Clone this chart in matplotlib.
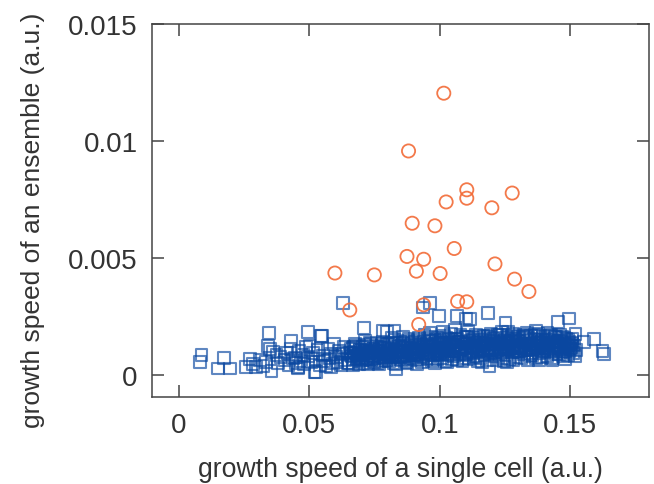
import numpy as np
import matplotlib
matplotlib.use("Agg")
import matplotlib.pyplot as plt

# single-cell growth speed vs ensemble growth speed (a.u.)
# orange circles: ensembles that grow faster
circ_x = [0.1015, 0.0880, 0.1103, 0.1103, 0.1277, 0.1024, 0.1199, 0.0894,
          0.0981, 0.1055, 0.0874, 0.0938, 0.1211, 0.0598, 0.0749, 0.0910,
          0.1001, 0.1286, 0.1341, 0.1068, 0.1103, 0.0938, 0.0655, 0.0919]
circ_y = [12.04, 9.57, 7.91, 7.55, 7.77, 7.39, 7.14, 6.48,
          6.37, 5.40, 5.06, 4.94, 4.74, 4.35, 4.27, 4.43,
          4.33, 4.09, 3.56, 3.14, 3.12, 2.99, 2.77, 2.15]  # x 1e-3

# blue squares: all other ensembles
sq_x = [
    # sparse left part
    0.0080, 0.0087, 0.0150, 0.0172, 0.0195, 0.0259, 0.0272, 0.0297, 0.0335, 0.0342,
    0.0346, 0.0348, 0.0355, 0.0361, 0.0374, 0.0323, 0.0380, 0.0285, 0.0310, 0.0390,
    0.0405, 0.0412, 0.0420, 0.0428, 0.0431, 0.0437, 0.0444, 0.0450, 0.0457, 0.0462,
    0.0468, 0.0475, 0.0481, 0.0488, 0.0495, 0.0501, 0.0507, 0.0513, 0.0520, 0.0527,
    0.0533, 0.0540, 0.0546, 0.0552, 0.0558, 0.0565, 0.0571, 0.0577, 0.0583, 0.0590,
    0.0596, 0.0602, 0.0608, 0.0614, 0.0620, 0.0626, 0.0632, 0.0638, 0.0644, 0.0649,
    # scattered above / below the band
    0.0496, 0.0550, 0.0457, 0.0527, 0.0584, 0.0629, 0.0709, 0.0797, 0.0833, 0.0935,
    0.0963, 0.1065, 0.1116, 0.1183, 0.1251, 0.1190, 0.1256, 0.1451, 0.1496, 0.1519,
    0.1591, 0.1623, 0.1630, 0.1553, 0.1368, 0.0998, 0.1101, 0.0782, 0.0826,
    # band
    0.0652, 0.0658, 0.0663, 0.0667, 0.0671, 0.0676, 0.0681, 0.0686, 0.0690, 0.0694,
    0.0698, 0.0655, 0.0672, 0.0688,
    0.0703, 0.0707, 0.0711, 0.0716, 0.0720, 0.0724, 0.0729, 0.0733, 0.0737, 0.0742,
    0.0746, 0.0749, 0.0713, 0.0731,
    0.0751, 0.0755, 0.0759, 0.0763, 0.0768, 0.0772, 0.0776, 0.0781, 0.0785, 0.0789,
    0.0793, 0.0797, 0.0766, 0.0784,
    0.0801, 0.0805, 0.0809, 0.0813, 0.0818, 0.0822, 0.0826, 0.0830, 0.0835, 0.0839,
    0.0843, 0.0847, 0.0816, 0.0833, 0.0846,
    0.0851, 0.0855, 0.0859, 0.0863, 0.0867, 0.0872, 0.0876, 0.0880, 0.0884, 0.0888,
    0.0892, 0.0896, 0.0858, 0.0874, 0.0893,
    0.0901, 0.0905, 0.0909, 0.0913, 0.0917, 0.0921, 0.0925, 0.0929, 0.0933, 0.0937,
    0.0941, 0.0945, 0.0949, 0.0912, 0.0931, 0.0946,
    0.0951, 0.0955, 0.0959, 0.0963, 0.0967, 0.0971, 0.0975, 0.0979, 0.0983, 0.0987,
    0.0991, 0.0995, 0.0999, 0.0962, 0.0980, 0.0994,
    0.1001, 0.1005, 0.1009, 0.1013, 0.1017, 0.1021, 0.1025, 0.1029, 0.1033, 0.1037,
    0.1041, 0.1045, 0.1049, 0.1011, 0.1027, 0.1043,
    0.1051, 0.1055, 0.1059, 0.1063, 0.1067, 0.1071, 0.1075, 0.1079, 0.1083, 0.1087,
    0.1091, 0.1095, 0.1099, 0.1058, 0.1077, 0.1093,
    0.1101, 0.1105, 0.1109, 0.1113, 0.1117, 0.1121, 0.1125, 0.1129, 0.1133, 0.1137,
    0.1141, 0.1145, 0.1149, 0.1108, 0.1127, 0.1143,
    0.1151, 0.1155, 0.1159, 0.1163, 0.1167, 0.1171, 0.1175, 0.1179, 0.1183, 0.1187,
    0.1191, 0.1195, 0.1199, 0.1160, 0.1178, 0.1194,
    0.1201, 0.1205, 0.1209, 0.1213, 0.1217, 0.1221, 0.1225, 0.1229, 0.1233, 0.1237,
    0.1241, 0.1245, 0.1249, 0.1212, 0.1231, 0.1246,
    0.1251, 0.1255, 0.1259, 0.1263, 0.1267, 0.1271, 0.1275, 0.1279, 0.1283, 0.1287,
    0.1291, 0.1295, 0.1299, 0.1262, 0.1281, 0.1296,
    0.1301, 0.1305, 0.1309, 0.1313, 0.1317, 0.1321, 0.1325, 0.1329, 0.1333, 0.1337,
    0.1341, 0.1345, 0.1349, 0.1312, 0.1331, 0.1346,
    0.1351, 0.1355, 0.1359, 0.1363, 0.1367, 0.1371, 0.1375, 0.1379, 0.1383, 0.1387,
    0.1391, 0.1395, 0.1399, 0.1362, 0.1380, 0.1394,
    0.1401, 0.1405, 0.1409, 0.1413, 0.1417, 0.1421, 0.1425, 0.1429, 0.1433, 0.1437,
    0.1441, 0.1445, 0.1449, 0.1412, 0.1431, 0.1446,
    0.1451, 0.1455, 0.1459, 0.1463, 0.1467, 0.1471, 0.1475, 0.1479, 0.1483, 0.1487,
    0.1491, 0.1495, 0.1499, 0.1460, 0.1478, 0.1493,
    0.1502, 0.1506, 0.1511, 0.1515, 0.1520, 0.1508, 0.1517,
]
sq_y = [  # x 1e-3
    0.56, 0.84, 0.27, 0.73, 0.27, 0.34, 0.67, 0.32, 0.53, 1.24,
    1.77, 1.10, 0.17, 0.96, 0.84, 0.38, 0.50, 0.45, 0.62, 0.75,
    0.62, 0.95, 0.40, 1.10, 1.45, 0.70, 0.74, 0.52, 0.32, 1.02,
    0.60, 0.85, 0.45, 1.18, 0.78, 1.24, 0.55, 0.92, 0.10, 0.67,
    1.05, 0.40, 1.67, 0.82, 0.58, 0.38, 1.12, 0.70, 0.90, 0.48,
    1.30, 0.75, 0.55, 1.00, 0.42, 0.88, 1.20, 0.62, 0.95, 0.50,
    1.84, 1.67, 0.27, 0.13, 0.32, 3.06, 2.00, 1.84, 0.24, 2.88,
    3.06, 2.52, 2.38, 2.64, 2.20, 0.38, 0.53, 2.24, 2.41, 1.74,
    1.53, 1.03, 0.88, 1.41, 1.88, 2.50, 2.41, 1.88, 1.88,
    0.52, 1.12, 0.78, 0.41, 0.95, 1.31, 0.66, 0.88, 0.47, 1.05,
    0.72, 0.93, 1.21, 0.60,
    0.84, 0.51, 1.18, 0.69, 1.02, 0.45, 0.91, 1.36, 0.63, 0.79,
    1.10, 0.55, 1.44, 0.97,
    0.71, 1.25, 0.49, 0.98, 0.83, 1.15, 0.58, 1.40, 0.76, 1.04,
    0.62, 0.89, 0.44, 1.21,
    0.93, 0.57, 1.30, 0.78, 1.12, 0.50, 1.48, 0.86, 1.01, 0.66,
    1.24, 0.74, 1.58, 0.45, 1.07,
    1.02, 0.63, 1.35, 0.81, 1.18, 0.55, 0.97, 1.52, 0.72, 1.26,
    0.88, 1.10, 1.64, 0.49, 0.69,
    0.85, 1.40, 0.62, 1.15, 0.96, 1.58, 0.74, 1.28, 0.53, 1.07,
    1.71, 0.90, 1.33, 0.47, 1.20, 0.68,
    1.18, 0.70, 1.45, 0.92, 1.62, 0.58, 1.25, 0.83, 1.50, 1.03,
    0.66, 1.37, 0.88, 1.80, 0.52, 1.12,
    0.95, 1.48, 0.72, 1.30, 1.66, 0.60, 1.14, 0.85, 1.55, 1.02,
    1.38, 0.67, 1.22, 1.85, 0.54, 1.75,
    1.26, 0.78, 1.52, 1.03, 0.62, 1.41, 0.90, 1.70, 1.15, 0.57,
    1.33, 0.83, 1.60, 1.90, 1.08, 0.70,
    0.88, 1.35, 1.62, 0.66, 1.19, 0.95, 1.48, 0.74, 1.28, 1.72,
    1.05, 0.59, 1.41, 1.83, 1.12, 0.80,
    1.22, 0.73, 1.50, 1.00, 1.68, 0.84, 1.31, 0.62, 1.14, 1.45,
    0.92, 1.76, 1.07, 0.55, 1.38, 1.60,
    1.04, 1.55, 0.78, 1.29, 0.64, 1.70, 1.12, 0.90, 1.42, 1.82,
    0.70, 1.20, 1.50, 0.96, 1.34, 0.58,
    1.36, 0.82, 1.58, 1.10, 0.68, 1.44, 0.95, 1.74, 1.18, 0.75,
    1.52, 1.02, 1.27, 1.85, 0.62, 1.40,
    0.98, 1.46, 1.20, 0.72, 1.62, 0.88, 1.34, 1.06, 1.78, 0.64,
    1.25, 1.50, 0.92, 1.15, 1.68, 0.80,
    1.30, 0.85, 1.55, 1.08, 0.70, 1.42, 1.18, 0.94, 1.65, 1.26,
    0.76, 1.48, 1.02, 1.72, 0.62, 1.36,
    1.12, 1.50, 0.80, 1.32, 0.96, 1.68, 1.22, 0.70, 1.44, 1.05,
    1.60, 0.88, 1.28, 1.80, 0.62, 1.38,
    1.24, 0.90, 1.46, 1.08, 1.62, 0.78, 1.34, 1.00, 1.55, 1.18,
    0.85, 1.40, 1.12, 1.70, 0.68, 1.28,
    1.10, 1.38, 0.92, 1.25, 1.05, 1.55, 0.80,
]

# extra squares in the crowded core of the band
core_x = [
    0.0661, 0.0667, 0.0670, 0.0676, 0.0679, 0.0686, 0.0689, 0.0694, 0.0701, 0.0704,
    0.0711, 0.0714, 0.0721, 0.0724, 0.0730, 0.0734, 0.0741, 0.0744, 0.0749, 0.0756,
    0.0760, 0.0766, 0.0769, 0.0776, 0.0781, 0.0784, 0.0790, 0.0794, 0.0799, 0.0806,
    0.0809, 0.0816, 0.0819, 0.0825, 0.0831, 0.0834, 0.0840, 0.0846, 0.0850, 0.0854,
    0.0861, 0.0864, 0.0871, 0.0875, 0.0879, 0.0886, 0.0890, 0.0894, 0.0901, 0.0905,
    0.0910, 0.0916, 0.0920, 0.0924, 0.0931, 0.0935, 0.0939, 0.0946, 0.0950, 0.0954,
    0.0961, 0.0965, 0.0969, 0.0976, 0.0980, 0.0984, 0.0991, 0.0995, 0.0999, 0.1006,
    0.1009, 0.1015, 0.1020, 0.1024, 0.1031, 0.1035, 0.1039, 0.1046, 0.1050, 0.1055,
    0.1060, 0.1065, 0.1071, 0.1074, 0.1080, 0.1086, 0.1089, 0.1095, 0.1100, 0.1104,
    0.1111, 0.1114, 0.1120, 0.1126, 0.1129, 0.1136, 0.1140, 0.1144, 0.1151, 0.1154,
    0.1160, 0.1166, 0.1169, 0.1175, 0.1181, 0.1184, 0.1190, 0.1195, 0.1199, 0.1206,
    0.1209, 0.1215, 0.1221, 0.1224, 0.1230, 0.1235, 0.1239, 0.1246, 0.1250, 0.1255,
    0.1261, 0.1264, 0.1270, 0.1276, 0.1279, 0.1285, 0.1291, 0.1294, 0.1300, 0.1305,
    0.1309, 0.1316, 0.1320, 0.1324, 0.1331, 0.1334, 0.1340, 0.1345, 0.1349, 0.1356,
    0.1360, 0.1364, 0.1371, 0.1375, 0.1379, 0.1386, 0.1390, 0.1394, 0.1401, 0.1405,
    0.1410, 0.1415, 0.1419, 0.1426, 0.1430, 0.1434, 0.1441, 0.1445, 0.1450, 0.1454,
    0.1461, 0.1464, 0.1470, 0.1475, 0.1479, 0.1486, 0.1490, 0.1495, 0.1500, 0.1504,
]
core_y = [  # x 1e-3
    0.82, 1.14, 0.67, 0.98, 1.22, 0.74, 0.90, 1.08, 0.62, 1.18,
    0.86, 1.26, 0.71, 1.02, 0.94, 1.30, 0.66, 1.12, 0.80, 1.00,
    1.20, 0.76, 1.05, 0.88, 1.34, 0.70, 1.16, 0.96, 1.28, 0.82,
    1.10, 0.74, 1.38, 0.92, 1.20, 0.80, 1.04, 1.42, 0.86, 1.24,
    0.98, 1.32, 0.78, 1.16, 1.46, 0.90, 1.08, 1.36, 0.84, 1.22,
    1.02, 1.48, 0.88, 1.30, 1.12, 0.80, 1.40, 0.96, 1.24, 1.52,
    0.92, 1.18, 1.44, 0.86, 1.34, 1.06, 1.56, 0.90, 1.26, 1.14,
    1.40, 0.94, 1.20, 1.58, 1.04, 1.32, 0.88, 1.48, 1.16, 1.00,
    1.28, 1.54, 0.96, 1.20, 1.42, 1.08, 1.62, 0.92, 1.34, 1.18,
    1.02, 1.46, 1.24, 0.94, 1.56, 1.14, 1.36, 1.00, 1.64, 1.22,
    1.38, 0.98, 1.26, 1.52, 1.10, 1.66, 1.04, 1.32, 1.44, 0.96,
    1.20, 1.58, 1.06, 1.36, 1.70, 1.14, 0.98, 1.46, 1.28, 1.62,
    1.08, 1.40, 1.22, 1.68, 1.02, 1.52, 1.30, 1.12, 1.60, 1.00,
    1.44, 1.18, 1.72, 1.06, 1.34, 1.56, 1.10, 1.26, 1.66, 1.04,
    1.30, 1.50, 1.12, 1.74, 1.22, 1.40, 1.02, 1.60, 1.16, 1.36,
    1.08, 1.54, 1.28, 1.70, 1.14, 1.42, 1.00, 1.62, 1.24, 1.46,
    1.18, 1.38, 0.96, 1.56, 1.26, 1.10, 1.48, 1.02, 1.34, 1.20,
]

x_ticks = [0, 0.05, 0.1, 0.15]
x_tick_labels = ["0", "0.05", "0.1", "0.15"]
y_ticks = [0, 0.005, 0.01, 0.015]
y_tick_labels = ["0", "0.005", "0.01", "0.015"]

plt.rcParams['font.family'] = ['Liberation Sans', 'DejaVu Sans']

fig = plt.figure(figsize=(6.54, 4.85), dpi=100)
ax = fig.add_axes([0.233, 0.1794, 0.759, 0.7691])

sq_style = dict(marker='s', s=72, facecolors='none', edgecolors='#0a47a0',
                linewidths=1.5, alpha=0.65, zorder=2)
ax.scatter(sq_x, np.array(sq_y) * 1e-3, **sq_style)
ax.scatter(core_x, np.array(core_y) * 1e-3, **sq_style)
ax.scatter(circ_x, np.array(circ_y) * 1e-3, marker='o', s=90, facecolors='none',
           edgecolors='#f26a36', linewidths=1.3, alpha=0.9, zorder=3)

ax.set_xlim(-0.0101, 0.18)
ax.set_ylim(-0.00095, 0.015)
ax.set_xticks(x_ticks)
ax.set_xticklabels(x_tick_labels)
ax.set_yticks(y_ticks)
ax.set_yticklabels(y_tick_labels)

ax.tick_params(direction='in', length=8.5, width=1.1, color='#444444',
               labelsize=20, labelcolor='#333333', pad=10.5,
               top=True, right=True)
for sp in ax.spines.values():
    sp.set_linewidth(1.1)
    sp.set_color('#444444')

ax.set_xlabel("growth speed of a single cell (a.u.)", fontsize=19.2, color='#333333', labelpad=13)
ax.set_ylabel("growth speed of an ensemble (a.u.)", fontsize=19, color='#333333', labelpad=17)
ax.yaxis.label.set_y(0.477)

fig.savefig("out.png", dpi=100)
